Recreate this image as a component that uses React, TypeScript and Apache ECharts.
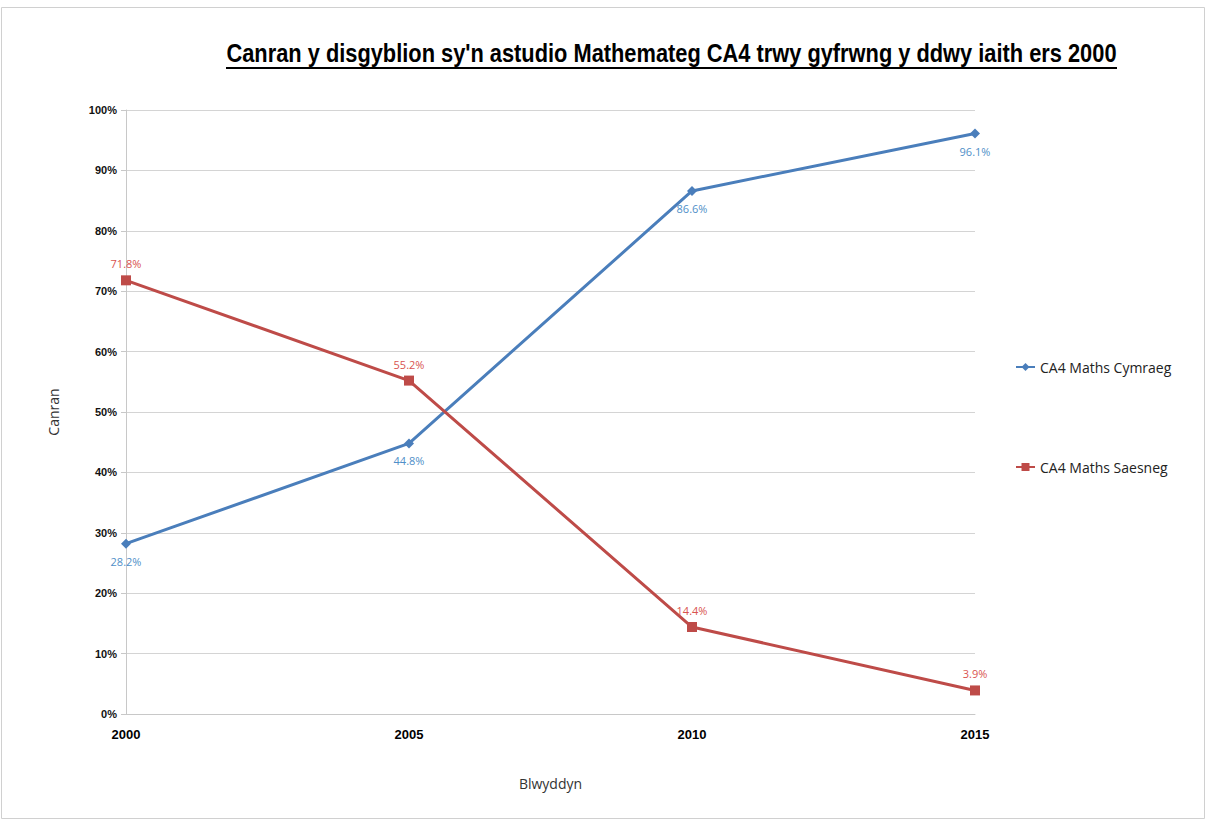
import React, { useEffect, useRef } from "react";
import * as echarts from "echarts";

const years = ["2000", "2005", "2010", "2015"];
const cymraeg = [28.2, 44.8, 86.6, 96.1];
const saesneg = [71.8, 55.2, 14.4, 3.9];
const seriesNames = ["CA4 Maths Cymraeg", "CA4 Maths Saesneg"];
const titleText = "Canran y disgyblion sy'n astudio Mathemateg CA4 trwy gyfrwng y ddwy iaith ers 2000";

const FONT = "'Open Sans', 'DejaVu Sans', sans-serif";
const TITLE_FONT = "bold 25px 'Liberation Sans', sans-serif";
const TITLE_WIDTH = 891;

// Horizontal squeeze so the bold title fits its underline span.
function titleScale(): number {
  const ctx = document.createElement("canvas").getContext("2d");
  if (!ctx) return 0.8;
  ctx.font = TITLE_FONT;
  const w = ctx.measureText(titleText).width;
  return w > 0 ? TITLE_WIDTH / w : 0.8;
}

export default function App() {
  const ref = useRef<HTMLDivElement>(null);

  useEffect(() => {
    if (!ref.current) return;
    const chart = echarts.init(ref.current, null, { renderer: "svg" });
    const pct = (p: any) => `${Number(p.value).toFixed(1)}%`;
    const sx = titleScale();
    chart.setOption({
      animation: false,
      backgroundColor: "#ffffff",
      textStyle: { fontFamily: FONT },
      graphic: [
        {
          type: "rect",
          shape: { x: 1.5, y: 7.5, width: 1203, height: 811 },
          style: { fill: "none", stroke: "#d0d0d0", lineWidth: 1 },
          silent: true,
        },
        {
          type: "text",
          x: 671.5,
          y: 53,
          scaleX: sx,
          style: {
            text: titleText,
            font: TITLE_FONT,
            fill: "#000000",
            textAlign: "center",
            textVerticalAlign: "middle",
          },
          silent: true,
        },
        {
          type: "line",
          shape: { x1: 226, y1: 68, x2: 1117, y2: 68 },
          style: { stroke: "#000000", lineWidth: 2 },
          silent: true,
        },
      ],
      legend: {
        orient: "vertical",
        left: 1010,
        top: 355,
        itemGap: 86,
        itemWidth: 19,
        itemHeight: 10,
        itemStyle: {},
        textStyle: { fontFamily: FONT, fontSize: 14, color: "#222222" },
        data: seriesNames,
      },
      grid: { left: 126, right: 233, top: 110, bottom: 107 },
      xAxis: {
        type: "category",
        data: years,
        boundaryGap: false,
        name: "Blwyddyn",
        nameLocation: "middle",
        nameGap: 62,
        nameTextStyle: { fontFamily: FONT, fontSize: 14, color: "#333333" },
        axisLine: { lineStyle: { color: "#c8c8c8", width: 1 } },
        axisTick: { show: false },
        axisLabel: {
          fontFamily: "'Liberation Sans', sans-serif",
          fontSize: 13,
          fontWeight: "bold",
          color: "#000000",
          margin: 14,
        },
      },
      yAxis: {
        type: "value",
        min: 0,
        max: 100,
        interval: 10,
        name: "Canran",
        nameLocation: "middle",
        nameGap: 66,
        nameRotate: 90,
        nameTextStyle: { fontFamily: FONT, fontSize: 14, color: "#333333" },
        axisLine: { show: true, lineStyle: { color: "#c8c8c8", width: 1 } },
        axisTick: { show: true, length: 5, lineStyle: { color: "#c8c8c8" } },
        splitLine: { lineStyle: { color: "#d4d4d4", width: 1 } },
        axisLabel: {
          fontFamily: "'Liberation Sans', sans-serif",
          fontSize: 11,
          fontWeight: "bold",
          color: "#111111",
          margin: 9,
          formatter: "{value}%",
        },
      },
      series: [
        {
          name: seriesNames[0],
          type: "line",
          data: cymraeg,
          symbol: "diamond",
          symbolSize: 10,
          lineStyle: { color: "#4a7ebb", width: 3 },
          itemStyle: { color: "#4a7ebb" },
          label: {
            show: true,
            position: "bottom",
            distance: 7,
            formatter: pct,
            fontFamily: FONT,
            fontSize: 11,
            color: "#4f8fc8",
          },
        },
        {
          name: seriesNames[1],
          type: "line",
          data: saesneg,
          symbol: "rect",
          symbolSize: 10,
          lineStyle: { color: "#be4b48", width: 3 },
          itemStyle: { color: "#be4b48" },
          label: {
            show: true,
            position: "top",
            distance: 6,
            formatter: pct,
            fontFamily: FONT,
            fontSize: 11,
            color: "#d9534f",
          },
        },
      ],
    });
    return () => chart.dispose();
  }, []);

  return (
    <div
      ref={ref}
      style={{ position: "fixed", left: 0, top: 0, width: 1208, height: 821 }}
    />
  );
}
